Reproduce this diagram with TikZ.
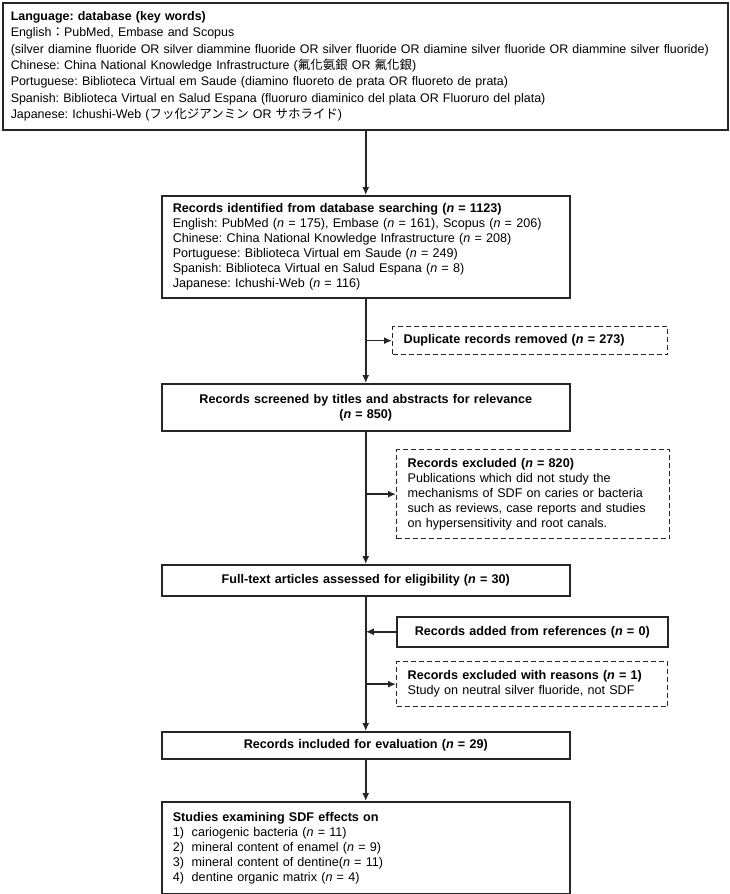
\documentclass[tikz,border=0pt]{standalone}
\usepackage{fontspec}
\setmainfont{Liberation Sans}
\newfontfamily\cjktc{Noto Sans CJK TC}
\newfontfamily\cjkjp{Noto Sans CJK JP}
\frenchspacing
\usepackage{tikz}
\usetikzlibrary{calc}
\usetikzlibrary{arrows.meta}
\tikzset{box/.style={draw=black!85,line width=1.5pt,anchor=north west,inner xsep=10pt,inner ysep=0pt,font=\fontsize{12.6}{15}\selectfont}}
\tikzset{lbox/.style={box,align=left}}
\tikzset{cbox/.style={box,align=center}}
\tikzset{dbox/.style={lbox,line width=1.3pt,dash pattern=on 5pt off 3pt}}
\tikzset{flow/.style={draw=black!85,line width=1.5pt,-{Latex[length=8pt,width=7pt]}}}
\newcommand{\nn}{\textit{n}}

\begin{document}
\begin{tikzpicture}[x=1pt,y=-1pt]
\useasboundingbox (0,0) rectangle (730,894);

\node[lbox,inner xsep=8pt,text width=709pt,minimum height=127pt,font=\fontsize{12.45}{16.3}\selectfont] (lang) at (2,2) {%
\textbf{Language: database (key words)}\\
English{\cjkjp ：}PubMed, Embase and Scopus\\
\mbox{(silver diamine fluoride OR silver diammine fluoride OR silver fluoride OR diamine silver fluoride OR diammine silver fluoride)}\\
Chinese: China National Knowledge Infrastructure ({\cjktc 氟化氨銀} OR {\cjktc 氟化銀})\\
Portuguese: Biblioteca Virtual em Saude (diamino fluoreto de prata OR fluoreto de prata)\\
Spanish: Biblioteca Virtual en Salud Espana (fluoruro diaminico del plata OR Fluoruro del plata)\\
Japanese: Ichushi-Web ({\cjkjp フッ化ジアンミン} OR {\cjkjp サホライド})};

\node[lbox,inner xsep=11pt,text width=386pt,minimum height=102pt] (rec) at (161,195) {%
\textbf{Records identified from database searching (\nn\ = 1123)}\\
English: PubMed (\nn\ = 175), Embase (\nn\ = 161), Scopus (\nn\ = 206)\\
Chinese: China National Knowledge Infrastructure (\nn\ = 208)\\
Portuguese: Biblioteca Virtual em Saude (\nn\ = 249)\\
Spanish: Biblioteca Virtual en Salud Espana (\nn\ = 8)\\
Japanese: Ichushi-Web (\nn\ = 116)};

\node[dbox,inner xsep=11pt,text width=253pt,minimum height=28pt] (dup) at (392,326) {%
\textbf{Duplicate records removed (\nn\ = 273)}};

\node[cbox,text width=388pt,minimum height=47pt] (scr) at (161,383) {%
\textbf{Records screened by titles and abstracts for relevance}\\
\textbf{(\nn\ = 850)}};

\node[dbox,inner xsep=11pt,text width=251pt,minimum height=89pt] (exc) at (396,449) {%
\textbf{Records excluded (\nn\ = 820)}\\
Publications which did not study the\\
mechanisms of SDF on caries or bacteria\\
such as reviews, case reports and studies\\
on hypersensitivity and root canals.};

\node[cbox,text width=388pt,minimum height=31pt] (full) at (161,564) {%
\textbf{Full-text articles assessed for eligibility (\nn\ = 30)}};

\node[cbox,text width=251pt,minimum height=30pt] (add) at (396,616) {%
\textbf{Records added from references (\nn\ = 0)}};

\node[dbox,inner xsep=11pt,text width=249pt,minimum height=45pt] (exc2) at (396,661) {%
\textbf{Records excluded with reasons (\nn\ = 1)}\\
Study on neutral silver fluoride, not SDF};

\node[cbox,text width=388pt,minimum height=27pt] (inc) at (161,731) {%
\textbf{Records included for evaluation (\nn\ = 29)}};

\node[lbox,inner xsep=11pt,text width=386pt,minimum height=92pt] (stu) at (161,801) {%
\textbf{Studies examining SDF effects on}\\
\makebox[19pt][l]{1)}cariogenic bacteria (\nn\ = 11)\\
\makebox[19pt][l]{2)}mineral content of enamel (\nn\ = 9)\\
\makebox[19pt][l]{3)}mineral content of dentine(\nn\ = 11)\\
\makebox[19pt][l]{4)}dentine organic matrix (\nn\ = 4)};

% main spine
\coordinate (top) at (rec.north |- lang.south);
\draw[flow] (top) -- (rec.north);
\draw[flow] (rec) -- (scr);
\draw[flow] (scr) -- (full);
\draw[flow] (full) -- (inc);
\draw[flow] (inc) -- (stu);

% side branches
\coordinate (b1) at (rec.south |- dup.west);
\coordinate (b2) at (scr.south |- exc.west);
\coordinate (b3) at (full.south |- add.west);
\coordinate (b4) at (full.south |- exc2.west);
\draw[flow] (b1) -- (dup.west);
\draw[flow] (b2) -- (exc.west);
\draw[flow] (add.west) -- (b3);
\draw[flow] (b4) -- (exc2.west);

\end{tikzpicture}
\end{document}
